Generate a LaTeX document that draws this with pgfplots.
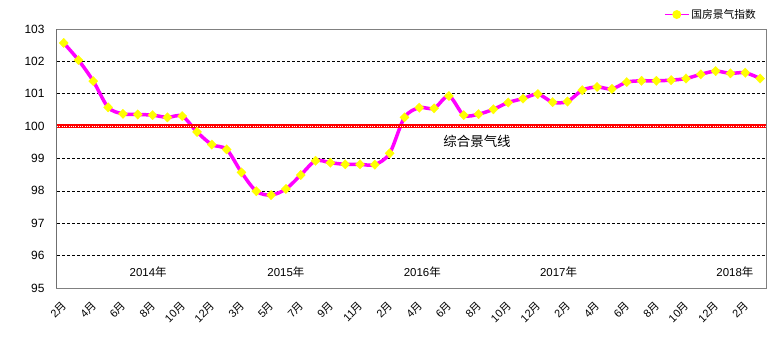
\documentclass[border=0pt]{standalone}
\usepackage{pgfplots}
\pgfplotsset{compat=1.18}
\usepackage{fontspec}
\setmainfont{Liberation Sans}
\newfontfamily\cjk{Noto Sans CJK SC}
\newcommand{\Y}{{\cjk 月}}
\newcommand{\N}{{\cjk 年}}
\definecolor{mag}{RGB}{255,0,255}
\definecolor{yel}{RGB}{255,255,0}
\definecolor{axgray}{RGB}{128,128,128}
\begin{document}
\begin{tikzpicture}
\useasboundingbox (0,0) rectangle (779bp,352bp);
\begin{axis}[
 at={(57bp,64bp)}, anchor=south west, scale only axis, width=709bp, height=259bp,
 xmin=-0.45, xmax=47.4, ymin=95, ymax=103,
 ytick={95,...,103}, xtick={0,2,...,46},
 xticklabels={2\Y,4\Y,6\Y,8\Y,10\Y,12\Y,3\Y,5\Y,7\Y,9\Y,11\Y,2\Y,4\Y,6\Y,8\Y,10\Y,12\Y,2\Y,4\Y,6\Y,8\Y,10\Y,12\Y,2\Y},
 major tick length=0pt,
 extra y ticks={96,97,98,99,101,102}, extra y tick labels={},
 extra y tick style={grid=major, major grid style={black, line width=0.75bp, dash pattern=on 3bp off 2bp}},
 axis line style={axgray, line width=1bp},
 /pgf/number format/assume math mode=true,
 yticklabel style={font=\fontsize{12}{13}\selectfont, xshift=-9bp},
 xticklabel style={font=\fontsize{11}{12}\selectfont, anchor=east, inner sep=0pt, xshift=1bp, yshift=-16bp, rotate=45},
 legend style={at={(1,1)}, anchor=south east, draw=none, fill=none, font=\fontsize{10.8}{12}\selectfont\cjk, inner sep=1bp, xshift=-7bp, yshift=6bp},
 legend image code/.code={\draw[mag, line width=1bp] (0,0) -- (24bp,0); \fill[yel] (12bp,0) circle (2.6bp);},
]
\addplot[mag, line width=3.5bp, smooth, tension=0.5, mark=diamond*, mark size=4.8bp, mark options={fill=yel, draw=yel, line width=0.1bp, xscale=1.3}] coordinates {
(0,102.57) (1,102.04) (2,101.39) (3,100.58) (4,100.38) (5,100.36) (6,100.34) (7,100.27)
(8,100.31) (9,99.82) (10,99.43) (11,99.28) (12,98.57) (13,97.99) (14,97.87) (15,98.06)
(16,98.49) (17,98.93) (18,98.87) (19,98.82) (20,98.82) (21,98.81) (22,99.16) (23,100.27)
(24,100.57) (25,100.55) (26,100.93) (27,100.34) (28,100.37) (29,100.52) (30,100.73) (31,100.85)
(32,100.99) (33,100.74) (34,100.76) (35,101.11) (36,101.21) (37,101.15) (38,101.36) (39,101.40)
(40,101.40) (41,101.42) (42,101.47) (43,101.60) (44,101.70) (45,101.63) (46,101.65) (47,101.47)
};
\addlegendentry{国房景气指数}
\addplot[red, line width=4bp, forget plot] coordinates {(-0.45,100) (47.4,100)};
\addplot[white, line width=0.7bp, dash pattern=on 0.7bp off 1.6bp, forget plot] coordinates {(-0.45,100) (47.4,100)};
\draw[black, line width=1bp] (rel axis cs:0,0) -- (rel axis cs:0,1);
\node[font=\fontsize{11.5}{13}\selectfont] at (axis cs:5.7,95.49) {2014\N};
\node[font=\fontsize{11.5}{13}\selectfont] at (axis cs:15.0,95.49) {2015\N};
\node[font=\fontsize{11.5}{13}\selectfont] at (axis cs:24.2,95.49) {2016\N};
\node[font=\fontsize{11.5}{13}\selectfont] at (axis cs:33.4,95.49) {2017\N};
\node[font=\fontsize{11.5}{13}\selectfont] at (axis cs:45.3,95.49) {2018\N};
\node[font=\fontsize{13.5}{15}\selectfont\cjk] at (axis cs:27.9,99.52) {综合景气线};
\end{axis}
\end{tikzpicture}
\end{document}
